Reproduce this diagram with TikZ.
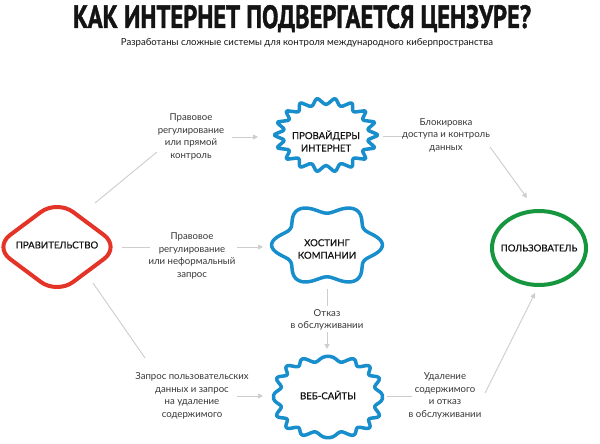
\documentclass[tikz,border=0pt]{standalone}
\usepackage{graphicx}
\usepackage{fontspec}
\setmainfont{Lato}
\newfontfamily\titlefont{PT Sans}[FakeBold=1.5]
\newfontfamily\nodefont{Lato}[FakeBold=0.6]
\usetikzlibrary{arrows.meta,shapes.geometric}
\definecolor{govred}{RGB}{228,52,40}
\definecolor{netblue}{RGB}{24,142,204}
\definecolor{usergreen}{RGB}{22,150,62}
\definecolor{connc}{RGB}{205,205,205}
\definecolor{labtext}{RGB}{55,55,55}
\definecolor{nodetext}{RGB}{20,20,20}
\begin{document}
\begin{tikzpicture}[x=1pt,y=-1pt,
  anch/.style={inner sep=0pt, outer sep=0pt, minimum size=0pt},
  ntxt/.style={font=\nodefont\fontsize{9.6}{12.5}\selectfont, text=nodetext, align=center, inner sep=0pt},
  lab/.style={font=\fontsize{9.6}{12.5}\selectfont, text=labtext, align=center, inner sep=0pt},
  conline/.style={draw=connc, line width=0.9pt},
  conarr/.style={conline, -{Triangle[length=5pt,width=5pt]}},
  redb/.style={draw=govred, line width=4pt, line join=round},
  blueb/.style={draw=netblue, line width=3.5pt, line join=round},
  greenb/.style={draw=usergreen, line width=4pt},
]
\fill[white] (0,0) rectangle (600,444);
\useasboundingbox (0,0) rectangle (600,444);

% title
\node[anchor=base, inner sep=0pt, text=nodetext] (title) at (302,28)
  {\resizebox{458pt}{23pt}{\titlefont\bfseries КАК ИНТЕРНЕТ ПОДВЕРГАЕТСЯ ЦЕНЗУРЕ?}};
\node[anchor=base, inner sep=0pt, text=nodetext] (subtitle) at (307,45.5)
  {\resizebox{372pt}{!}{\fontsize{9}{10}\selectfont Разработаны сложные системы для контроля международного киберпространства}};

% anchor nodes (shape centres)
\node[anch] (gov) at (57,247) {};
\node[anch] (prov) at (326,135) {};
\node[anch] (host) at (327,245) {};
\node[anch] (web) at (328,397) {};
\node[anch] (user) at (539,248) {};

% shapes
\begin{scope}[shift={(gov.center)}]
  \draw[redb, rounded corners=20pt] (-63,0) -- (0,-47) -- (63,0) -- (0,47) -- cycle;
\end{scope}
\begin{scope}[shift={(prov.center)}]
  \draw[blueb, rounded corners=2.5pt] plot[domain=0:350, samples=36, variable=\t]
    ({53*(1-0.11*(1-cos(18*\t)))*cos(\t)}, {38*(1-0.11*(1-cos(18*\t)))*sin(\t)}) -- cycle;
\end{scope}
\begin{scope}[shift={(host.center)}]
  \draw[blueb] plot[domain=0:358, samples=180, variable=\t]
    ({49*(1+0.13*cos(6*\t))*cos(\t)}, {36.6*(1+0.13*cos(6*\t))*sin(\t)}) -- cycle;
\end{scope}
\begin{scope}[shift={(web.center)}]
  \draw[blueb] plot[domain=1:359, samples=180, variable=\t]
    ({51*(1+0.07*cos(16*\t))*sign(cos(\t))*abs(cos(\t))^0.8}, {38*(1+0.07*cos(16*\t))*sign(sin(\t))*abs(sin(\t))^0.8}) -- cycle;
\end{scope}
\draw[greenb] (user.center) ellipse [x radius=47, y radius=37];

% node texts
\node[ntxt] (govt) at ([shift={(0,-2)}]gov.center) {ПРАВИТЕЛЬСТВО};
\node[ntxt] (provt) at ([shift={(0,6)}]prov.center) {ПРОВАЙДЕРЫ\\ИНТЕРНЕТ};
\node[ntxt] (hostt) at ([shift={(0,4)}]host.center) {ХОСТИНГ\\КОМПАНИИ};
\node[ntxt] (webt) at ([shift={(0,-2)}]web.center) {ВЕБ-САЙТЫ};
\node[ntxt] (usert) at ([shift={(0,0)}]user.center) {ПОЛЬЗОВАТЕЛЬ};

% labels
\node[lab] (l1) at (191,137) {Правовое\\регулирование\\или прямой\\контроль};
\node[lab] (l2) at (192,256) {Правовое\\регулирование\\или неформальный\\запрос};
\node[lab] (l3) at (192,396) {Запрос пользовательских\\данных и запрос\\на удаление\\содержимого};
\node[lab] (l4) at (446,135) {Блокировка\\доступа и контроль\\данных};
\node[lab] (l5) at (445,396) {Удаление\\содержимого\\и отказ\\в обслуживании};
\node[lab] (l6) at (327,320) {Отказ\\в обслуживании};

% connectors
\draw[conline] ([shift={(38,-44)}]gov.center) -- ([shift={(-34,15)}]l1.center);
\draw[conarr] ([shift={(41,0)}]l1.center) -- ([shift={(-68,2)}]prov.center);
\draw[conline] ([shift={(65,0)}]gov.center) -- ([shift={(-42,-9)}]l2.center);
\draw[conarr] ([shift={(45,-9)}]l2.center) -- ([shift={(-64,2)}]host.center);
\draw[conline] ([shift={(36,36)}]gov.center) -- ([shift={(-47,-38)}]l3.center);
\draw[conarr] ([shift={(45,0)}]l3.center) -- ([shift={(-65,-1)}]web.center);
\draw[conline] ([shift={(57,1)}]prov.center) -- ([shift={(-44,1)}]l4.center);
\draw[conarr] ([shift={(44,12)}]l4.center) -- ([shift={(-12,-50)}]user.center);
\draw[conline] ([shift={(59,-1)}]web.center) -- ([shift={(-33,0)}]l5.center);
\draw[conarr] ([shift={(40,-3)}]l5.center) -- ([shift={(-4,45)}]user.center);
\draw[conline] ([shift={(0,44)}]host.center) -- ([shift={(0,-14)}]l6.center);
\draw[conarr] ([shift={(0,12)}]l6.center) -- ([shift={(-1,-48)}]web.center);
\end{tikzpicture}
\end{document}
